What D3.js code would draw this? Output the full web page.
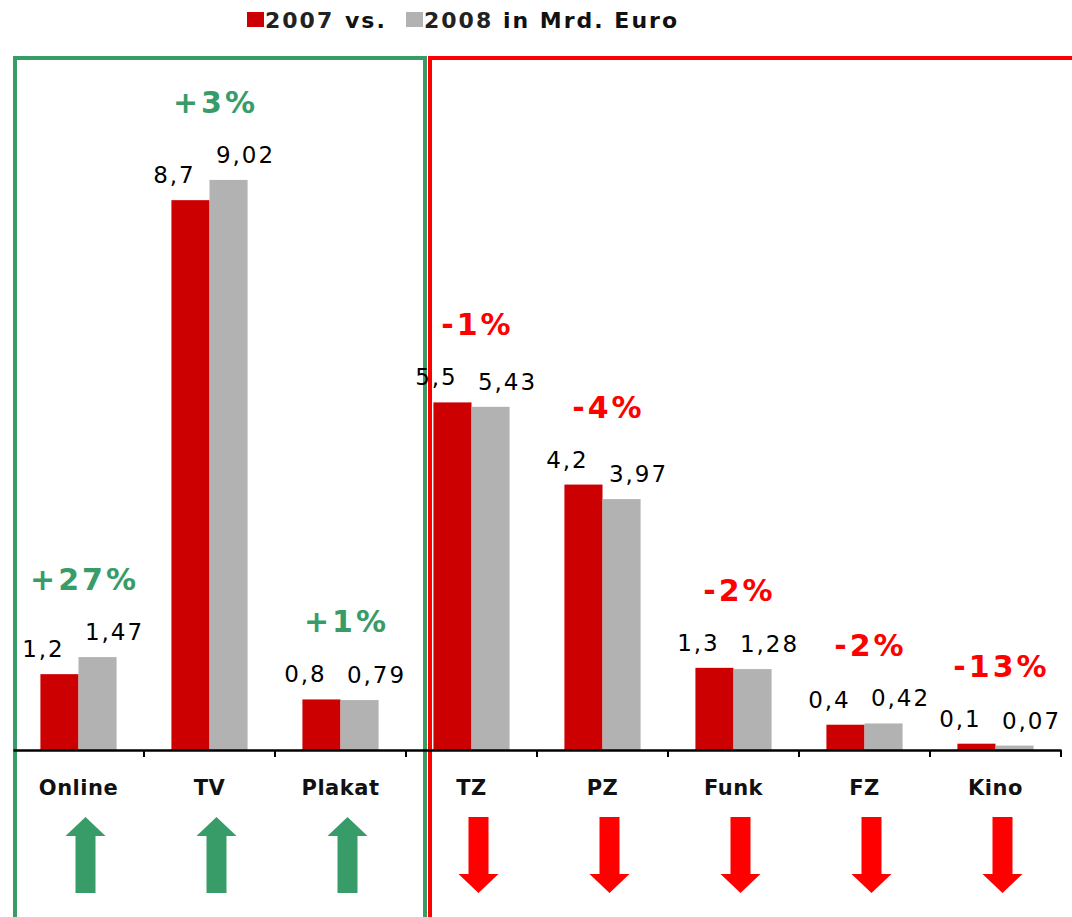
<!DOCTYPE html>
<html>
<head>
<meta charset="utf-8">
<script src="https://cdn.jsdelivr.net/npm/d3@7"></script>
<style>
  body { margin: 0; background: #fff; }
  svg { display: block; font-family: "DejaVu Sans", Verdana, sans-serif; }
</style>
</head>
<body>
<div id="chart"></div>
<script>
// Werbeumsaetze 2007 vs 2008 (Mrd. Euro)
const categories = ["Online", "TV", "Plakat", "TZ", "PZ", "Funk", "FZ", "Kino"];
const values2007 = [1.2, 8.7, 0.8, 5.5, 4.2, 1.3, 0.4, 0.1];
const values2008 = [1.47, 9.02, 0.79, 5.43, 3.97, 1.28, 0.42, 0.07];
const changes = ["+27%", "+3%", "+1%", "-1%", "-4%", "-2%", "-2%", "-13%"];
const years = ["2007", "2008"];

const width = 1072, height = 917;
const baseY = 750;
const green = "#389c69", red = "#ff0000";
const barColors = { "2007": "#cc0000", "2008": "#b2b2b2" };

// german decimal comma
const de = d3.formatLocale({ decimal: ",", thousands: ".", grouping: [3], currency: ["", " €"] });
const fmt = de.format("");

const svg = d3.select("#chart").append("svg")
    .attr("width", width)
    .attr("height", height);

const x0 = d3.scaleBand()
    .domain(categories)
    .range([13, 1061]);

const x1 = d3.scaleBand()
    .domain(years)
    .range([0, x0.bandwidth()])
    .paddingOuter(0.72);

const y = d3.scaleLinear()
    .domain([0, 10])
    .range([baseY, baseY - 632]);

const rows = categories.map((c, i) => ({
    cat: c, v: { "2007": values2007[i], "2008": values2008[i] }, change: changes[i]
}));

// title / legend
const title = svg.append("g");
title.append("rect").attr("x", 247).attr("y", 12).attr("width", 17).attr("height", 15).attr("fill", barColors["2007"]);
title.append("rect").attr("x", 406).attr("y", 12).attr("width", 17).attr("height", 15).attr("fill", barColors["2008"]);
const tt = [[265, years[0], "#222"], [345, "vs.", "#111"], [424, years[1], "#222"], [503, "in Mrd. Euro", "#111"]];
tt.forEach(([tx, s, c]) => {
    title.append("text")
        .attr("x", tx).attr("y", 28)
        .attr("fill", c)
        .style("font-size", "22px")
        .style("font-weight", "bold")
        .style("letter-spacing", "2px")
        .text(s);
});

// group frames
const splitX = x0("TZ");
svg.append("path")
    .attr("d", `M15,${height + 5}V58H${splitX + 19}V${height + 5}`)
    .attr("fill", "none")
    .attr("stroke", green)
    .attr("stroke-width", 4);
svg.append("path")
    .attr("d", `M${splitX + 24},${height + 5}V58H${width + 5}`)
    .attr("fill", "none")
    .attr("stroke", red)
    .attr("stroke-width", 4);

// bars
const g = svg.selectAll("g.cat")
    .data(rows)
    .enter().append("g")
    .attr("class", "cat")
    .attr("transform", d => `translate(${x0(d.cat)},0)`);

g.selectAll("rect")
    .data(d => years.map(k => ({ k, v: d.v[k] })))
    .enter().append("rect")
    .attr("x", d => x1(d.k))
    .attr("y", d => y(d.v))
    .attr("width", x1.bandwidth())
    .attr("height", d => baseY - y(d.v))
    .attr("fill", d => barColors[d.k]);

// value labels
g.selectAll("text.val")
    .data(d => years.map(k => ({ k, v: d.v[k] })))
    .enter().append("text")
    .attr("class", "val")
    .attr("x", d => x1(d.k) + x1.bandwidth() / 2 + (d.k === "2007" ? -16 : 17))
    .attr("y", d => y(d.v) - 17)
    .attr("text-anchor", "middle")
    .attr("fill", "#000")
    .style("font-size", "23px")
    .style("letter-spacing", "2px")
    .text(d => fmt(d.v));

// change labels
g.append("text")
    .attr("x", x0.bandwidth() / 2 + 6)
    .attr("y", d => y(Math.max(d.v["2007"], d.v["2008"])) - 67)
    .attr("text-anchor", "middle")
    .attr("fill", d => d.change[0] === "+" ? green : red)
    .style("font-size", "30px")
    .style("font-weight", "bold")
    .style("letter-spacing", "3px")
    .text(d => d.change);

// arrows
const arrowUp = "M0,-38L20,-19L10,-19L10,38L-10,38L-10,-19L-20,-19Z";
const arrowDown = "M0,38L20,19L10,19L10,-38L-10,-38L-10,19L-20,19Z";
g.append("path")
    .attr("transform", `translate(${x0.bandwidth() / 2 + 7},855)`)
    .attr("d", d => d.change[0] === "+" ? arrowUp : arrowDown)
    .attr("fill", d => d.change[0] === "+" ? green : red);

// x axis
const axis = svg.append("g")
    .attr("transform", `translate(0,${baseY})`)
    .call(d3.axisBottom(x0).tickSize(0).tickPadding(0).tickSizeOuter(0));
axis.select(".domain").attr("stroke", "#000").attr("stroke-width", 2.5);
axis.selectAll(".tick text")
    .attr("y", 45)
    .attr("dy", 0)
    .attr("fill", "#111")
    .style("font-family", "'DejaVu Sans', Verdana, sans-serif")
    .style("font-size", "21px")
    .style("font-weight", "bold")
    .style("letter-spacing", "0.5px");

// tick marks on the category borders
axis.selectAll("line.sep")
    .data(categories.slice(1).concat(["end"]))
    .enter().append("line")
    .attr("class", "sep")
    .attr("x1", d => d === "end" ? x0.range()[1] : x0(d))
    .attr("x2", d => d === "end" ? x0.range()[1] : x0(d))
    .attr("y1", 0)
    .attr("y2", 7)
    .attr("stroke", "#000")
    .attr("stroke-width", 2);
</script>
</body>
</html>
